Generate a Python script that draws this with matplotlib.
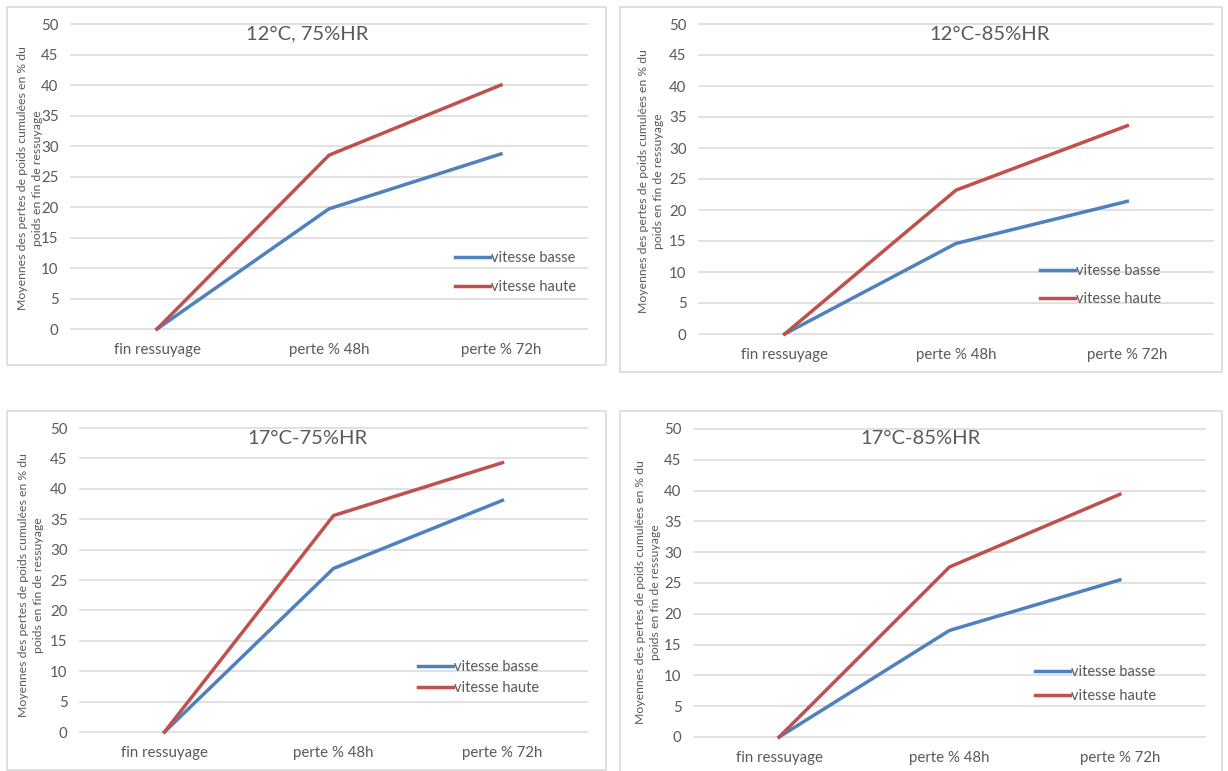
import matplotlib
matplotlib.use("Agg")
import matplotlib.pyplot as plt
from matplotlib.patches import Rectangle

plt.rcParams['font.family'] = ['Lato', 'DejaVu Sans']

# données
etapes = ['fin ressuyage', 'perte % 48h', 'perte % 72h']
conditions = ['12°C, 75%HR', '12°C-85%HR', '17°C-75%HR', '17°C-85%HR']
vitesse_basse = [
    [0, 19.7, 28.7],
    [0, 14.6, 21.4],
    [0, 26.9, 38.1],
    [0, 17.3, 25.5],
]
vitesse_haute = [
    [0, 28.5, 40.0],
    [0, 23.2, 33.6],
    [0, 35.6, 44.3],
    [0, 27.6, 39.4],
]
noms_series = ['vitesse basse', 'vitesse haute']
yticks = [0, 5, 10, 15, 20, 25, 30, 35, 40, 45, 50]
ylabel = "Moyennes des pertes de poids cumulées en % du\npoids en fin de ressuyage"

W, H = 1228, 771
GRIS = '#595959'
GRILLE = '#d9d9d9'
BLEU = '#4f81bd'
ROUGE = '#c0504d'

# mise en page en pixels (x0, y0, x1, y1), origine en haut à gauche
cadres = [(7, 7, 606, 365), (620, 7, 1222, 372), (7, 411, 606, 770), (620, 411, 1222, 778)]
zones = [(71, 24, 587, 329), (699, 24, 1213, 334), (80, 428, 587, 732), (694, 429, 1205, 737)]
titres_pos = [(307, 34), (990, 34), (307, 438), (920, 438)]
legendes_pos = [(455, 272.5), (1040, 285), (418, 677.5), (1035, 684)]
legendes_esp = [1.0, 0.92, 0.45, 0.66]
ylabel_pos = [(30, 178), (651, 181), (31, 585), (648, 592)]


def fx(x):
    return x / W


def fy(y):
    return 1 - y / H


fig = plt.figure(figsize=(W / 100, H / 100), dpi=100)

for i in range(4):
    x0, y0, x1, y1 = cadres[i]
    fig.add_artist(Rectangle((fx(x0), fy(y1)), (x1 - x0) / W, (y1 - y0) / H,
                             transform=fig.transFigure, fill=False,
                             edgecolor=GRILLE, lw=1.2, clip_on=False))

    x0, y0, x1, y1 = zones[i]
    ax = fig.add_axes([fx(x0), fy(y1), (x1 - x0) / W, (y1 - y0) / H])
    xs = range(len(etapes))
    ax.plot(xs, vitesse_basse[i], color=BLEU, lw=2.5, label=noms_series[0],
            clip_on=False, zorder=3)
    ax.plot(xs, vitesse_haute[i], color=ROUGE, lw=2.5, label=noms_series[1],
            clip_on=False, zorder=3)

    ax.set_xlim(-0.5, 2.5)
    ax.set_ylim(0, 50)
    ax.set_xticks(list(xs))
    ax.set_xticklabels(etapes)
    ax.set_yticks(yticks)
    ax.grid(axis='y', color=GRILLE, lw=1.1)
    for gl in ax.get_ygridlines():
        gl.set_clip_on(False)
    ax.set_axisbelow(True)
    for s in ax.spines.values():
        s.set_visible(False)
    ax.tick_params(length=0, labelsize=10.8, colors=GRIS)
    ax.tick_params(axis='y', pad=9)
    ax.tick_params(axis='x', pad=10)

    tx, ty = titres_pos[i]
    fig.text(fx(tx), fy(ty), conditions[i], ha='center', va='center',
             fontsize=14.5, color=GRIS)

    lx, ly = legendes_pos[i]
    ax.legend(loc='center left', bbox_to_anchor=(fx(lx), fy(ly)),
              bbox_transform=fig.transFigure, frameon=False, fontsize=10.5,
              handlelength=2.4, handletextpad=0.05, borderpad=0,
              borderaxespad=0, labelspacing=legendes_esp[i],
              labelcolor=GRIS)

    yx, yy = ylabel_pos[i]
    fig.text(fx(yx), fy(yy), ylabel, rotation=90, ha='center', va='center',
             fontsize=8.8, color=GRIS, linespacing=1.45, multialignment='center')

fig.savefig('out.png', dpi=100, facecolor='white')
